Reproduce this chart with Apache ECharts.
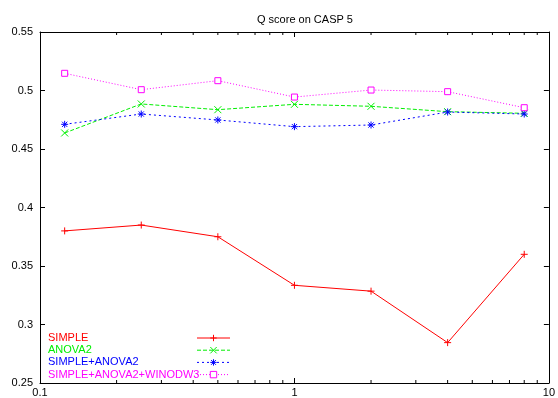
<!DOCTYPE html>
<html>
<head>
<meta charset="utf-8">
<script src="https://cdn.jsdelivr.net/npm/echarts@6/dist/echarts.min.js"></script>
<style>
  html, body { margin: 0; padding: 0; background: #fff; }
  #chart { width: 558px; height: 398px; }
</style>
</head>
<body>
<div id="chart"></div>
<script>
const xValues = [0.125, 0.25, 0.5, 1, 2, 4, 8]
const simple = [0.38, 0.385, 0.375, 0.3335, 0.3285, 0.2845, 0.36]
const anova2 = [0.4637, 0.4885, 0.4836, 0.4882, 0.4865, 0.4819, 0.4805]
const simpleAnova2 = [0.4711, 0.4799, 0.4748, 0.4691, 0.4705, 0.4816, 0.4799]
const simpleAnova2Window3 = [0.5147, 0.5007, 0.5084, 0.4944, 0.5004, 0.499, 0.4853]
const seriesNames = ['SIMPLE', 'ANOVA2', 'SIMPLE+ANOVA2', 'SIMPLE+ANOVA2+WINODW3']
const minorTicks = [0.2, 0.3, 0.4, 0.5, 0.6, 0.7, 0.8, 0.9, 2, 3, 4, 5, 6, 7, 8, 9]

const yMin = 0.25
const yMax = 0.55
const font = 'Liberation Sans, Arial, sans-serif'
const colors = ['#ff0000', '#00ee00', '#0000ff', '#ff00ff']

const symbols = [
  'path://M4,0L4,8M0,4L8,4',
  'path://M0,0L8,8M0,8L8,0',
  'path://M4,0L4,8M0,4L8,4M1,1L7,7M1,7L7,1',
  'path://M0,0L8,0L8,8L0,8Z',
]
const dashes = ['solid', [4, 2], [2, 3], [1, 2]]
const seriesData = [simple, anova2, simpleAnova2, simpleAnova2Window3]

const chart = echarts.init(document.getElementById('chart'))

const axisBase = {
  axisLine: { show: true, lineStyle: { color: '#000', width: 1 } },
  axisTick: { show: true, inside: true, length: 5, lineStyle: { color: '#000' } },
  splitLine: { show: false },
}

const lineSeries = seriesNames.map((name, i) => ({
  name,
  type: 'line',
  data: xValues.map((x, j) => [x, seriesData[i][j]]),
  symbol: symbols[i],
  symbolSize: i === 3 ? 6 : 7,
  showAllSymbol: true,
  lineStyle: { color: colors[i], width: 1, type: dashes[i] },
  itemStyle: {
    color: i === 3 ? '#fff' : colors[i],
    borderColor: colors[i],
    borderWidth: 1,
  },
  emphasis: { disabled: true },
  z: 3 + i,
}))

const rich = {}
seriesNames.forEach((name, i) => {
  rich['s' + i] = { color: colors[i], width: 144, align: 'left', fontSize: 11, fontFamily: font }
})

chart.setOption({
  animation: false,
  title: {
    text: 'Q score on CASP 5',
    left: 252,
    top: 9,
    textStyle: { fontSize: 11, fontWeight: 'normal', color: '#000', fontFamily: font },
  },
  grid: { left: 40, right: 7, top: 32, bottom: 15, containLabel: false },
  legend: {
    orient: 'vertical',
    left: 48,
    top: 332,
    align: 'right',
    itemWidth: 33,
    itemHeight: 8,
    itemGap: 0.2,
    padding: 0,
    selectedMode: false,
    data: seriesNames,
    itemStyle: { borderWidth: 1 },
    lineStyle: { width: 1 },
    formatter: (name) => '{s' + seriesNames.indexOf(name) + '|' + name + '}',
    textStyle: { fontSize: 11, fontFamily: font, lineHeight: 12, rich },
  },
  xAxis: [
    {
      ...axisBase,
      type: 'log',
      logBase: 10,
      min: 0.1,
      max: 10,
      position: 'bottom',
      axisLabel: { color: '#000', fontSize: 11, fontFamily: font, margin: 4 },
    },
    {
      ...axisBase,
      type: 'log',
      logBase: 10,
      min: 0.1,
      max: 10,
      position: 'top',
      axisLabel: { show: false },
    },
  ],
  yAxis: [
    {
      ...axisBase,
      type: 'value',
      min: yMin,
      max: yMax,
      interval: 0.05,
      position: 'left',
      axisLabel: { color: '#000', fontSize: 11, fontFamily: font, margin: 7 },
    },
    {
      ...axisBase,
      type: 'value',
      min: yMin,
      max: yMax,
      interval: 0.05,
      position: 'right',
      axisLabel: { show: false },
    },
  ],
  series: [
    {
      name: 'minorTicks',
      type: 'custom',
      silent: true,
      xAxisIndex: 0,
      yAxisIndex: 0,
      data: minorTicks.map((v) => [v, yMin]),
      renderItem(params, api) {
        const p = api.coord([api.value(0), yMin])
        const cs = params.coordSys
        const bottom = cs.y + cs.height
        const style = { stroke: '#000', lineWidth: 1 }
        return {
          type: 'group',
          children: [
            { type: 'line', shape: { x1: p[0], y1: bottom, x2: p[0], y2: bottom - 3 }, style },
            { type: 'line', shape: { x1: p[0], y1: cs.y, x2: p[0], y2: cs.y + 3 }, style },
          ],
        }
      },
      z: 1,
    },
    ...lineSeries,
  ],
})

window.addEventListener('resize', () => chart.resize())
</script>
</body>
</html>
